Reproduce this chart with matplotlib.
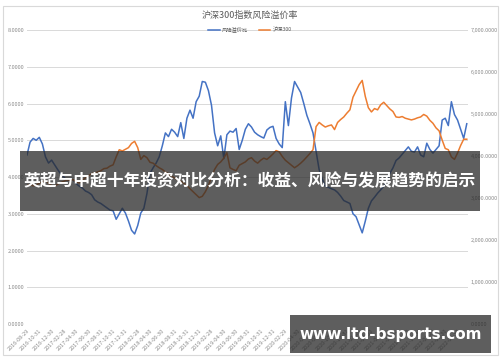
import numpy as np
import matplotlib
matplotlib.use('Agg')
import matplotlib.pyplot as plt
from matplotlib.patches import Rectangle
from matplotlib.ticker import FuncFormatter

plt.rcParams['font.family'] = ['Noto Sans CJK SC', 'DejaVu Sans']

# semi-monthly samples, 2016-08-29 .. 2022-07
premium = [4.6, 4.95, 5.05, 5.0, 5.08, 4.9, 4.55, 4.38, 4.46, 4.33,
           4.2, 4.08, 4.0, 3.9, 3.95, 3.92, 3.82, 3.75, 3.7, 3.62,
           3.58, 3.52, 3.38, 3.32, 3.28, 3.22, 3.16, 3.1, 3.08, 2.85,
           3.0, 3.15, 3.02, 2.8, 2.55, 2.45, 2.68, 3.02, 3.15, 3.55,
           4.1, 4.25, 4.38, 4.55, 4.85, 5.2, 5.1, 5.3, 5.22, 5.1,
           5.48, 5.05, 5.6, 5.82, 5.6, 6.05, 6.2, 6.6, 6.58, 6.35,
           5.95, 5.2, 4.85, 5.12, 4.5, 5.15, 5.25, 5.22, 5.32, 4.75,
           5.0, 5.3, 5.45, 5.36, 5.22, 5.15, 5.1, 5.06, 5.28, 5.35,
           5.38, 5.05, 4.9, 4.8, 6.05, 5.4, 6.15, 6.6, 6.45, 6.3,
           6.0, 5.68, 5.45, 5.2, 4.7, 4.2, 3.95, 3.75, 3.72, 3.68,
           3.65, 3.58, 3.48, 3.36, 3.32, 3.28, 3.0, 2.92, 2.7, 2.48,
           2.8, 3.15, 3.35, 3.45, 3.56, 3.65, 3.75, 3.92, 4.1, 4.25,
           4.45, 4.52, 4.62, 4.72, 4.82, 4.7, 4.68, 4.82, 4.6, 4.55,
           4.92, 4.75, 4.65, 4.75, 4.85, 5.55, 5.6, 5.4, 6.05, 5.7,
           5.55, 5.3, 5.05, 5.45]

hs300 = [3300, 3320, 3290, 3310, 3350, 3380, 3420, 3350, 3300, 3280,
         3330, 3370, 3400, 3430, 3420, 3440, 3380, 3360, 3420, 3480,
         3530, 3580, 3600, 3620, 3650, 3700, 3710, 3760, 3790, 3980,
         4150, 4120, 4160, 4200, 4300, 4350, 4200, 3920, 4010, 3960,
         3850, 3830, 3770, 3720, 3680, 3620, 3580, 3520, 3480, 3430,
         3400, 3350, 3300, 3220, 3150, 3080, 3010, 3040, 3150, 3300,
         3500, 3680, 3800, 3860, 3950, 4080, 3720, 3680, 3650, 3780,
         3820, 3860, 3930, 3960, 3880, 3830, 3900, 3950, 3920, 3980,
         4050, 4130, 4100, 3990, 3900, 3840, 3780, 3720, 3770, 3830,
         3900, 3980, 4060, 4150, 4700, 4800, 4740, 4690, 4720, 4740,
         4630, 4800, 4870, 4930, 5020, 5100, 5400, 5550, 5700, 5800,
         5420, 5150, 5050, 5130, 5100, 5220, 5280, 5200, 5120, 5060,
         4930, 4920, 4940, 4900, 4880, 4860, 4880, 4910, 4930, 4990,
         4950, 4850, 4780, 4670, 4600, 4380, 4180, 4150, 3980, 3920,
         4070, 4250, 4400, 4400]

date_labels = ['2016-08-29', '2016-10-31', '2016-12-30', '2017-02-28', '2017-04-30',
               '2017-06-30', '2017-08-31', '2017-10-31', '2017-12-31', '2018-02-28',
               '2018-04-30', '2018-06-30', '2018-08-31', '2018-10-31', '2018-12-31',
               '2019-02-28', '2019-04-30', '2019-06-30', '2019-08-31', '2019-10-31',
               '2019-12-31', '2020-02-29', '2020-04-30', '2020-06-30', '2020-08-31',
               '2020-10-31', '2020-12-31', '2021-02-28', '2021-04-30', '2021-06-30',
               '2021-08-31', '2021-10-31', '2021-12-31', '2022-02-28', '2022-04-30',
               '2022-06-30']

x = np.arange(len(premium))
grey = '#8c8c8c'

fig = plt.figure(figsize=(5, 3.62), dpi=100)
ax = fig.add_axes([0.054, 0.105, 0.882, 0.812])
ax2 = ax.twinx()

ax.plot(x, premium, color='#4472C4', lw=1.1, label='风险溢价比')
ax2.plot(x, hs300, color='#ED7D31', lw=1.1, label='沪深300')

ax.set_xlim(0, 143.4)
ax.set_ylim(0, 8)
ax2.set_ylim(0, 7000)
ax.set_yticks(np.arange(0, 9, 1))
ax2.set_yticks(np.arange(0, 7001, 1000))
ax.yaxis.set_major_formatter(FuncFormatter(lambda v, p: '%.4f' % v))
ax2.yaxis.set_major_formatter(FuncFormatter(lambda v, p: '{:,.4f}'.format(v)))
ax.set_xticks(np.arange(0, len(date_labels) * 4, 4))
ax.set_xticklabels(date_labels, rotation=45, ha='right', rotation_mode='anchor')

ax.grid(axis='y', color='#d9d9d9', lw=0.7)
ax.set_axisbelow(True)
for a in (ax, ax2):
    for s in a.spines.values():
        s.set_visible(False)
    a.tick_params(length=0, labelsize=4, labelcolor=grey, pad=2)
ax.tick_params(axis='x', pad=3)

fig.text(0.5, 0.958, '沪深300指数风险溢价率', ha='center', va='center',
         fontsize=6.5, color='#595959')
h1, l1 = ax.get_legend_handles_labels()
h2, l2 = ax2.get_legend_handles_labels()
fig.legend(h1 + h2, l1 + l2, loc='center', bbox_to_anchor=(0.5, 0.917), ncol=2,
           frameon=False, fontsize=3.8, handlelength=2.2, columnspacing=2.0,
           handletextpad=0.4, labelcolor='#595959')

# chart border
fig.patches.append(Rectangle((0.006, 0.019), 0.99, 0.964, transform=fig.transFigure,
                             fill=False, edgecolor='#d9d9d9', lw=0.8))

# overlays
fig.patches.append(Rectangle((0.04, 0.417), 0.92, 0.166, transform=fig.transFigure,
                             facecolor='#282828', alpha=0.75, zorder=10))
fig.text(0.5, 0.5, '英超与中超十年投资对比分析：收益、风险与发展趋势的启示',
         ha='center', va='center', color='white', fontsize=12.1,
         fontweight='bold', zorder=11)
fig.patches.append(Rectangle((0.58, 0.025), 0.402, 0.105, transform=fig.transFigure,
                             facecolor='#282828', alpha=0.75, zorder=10))
fig.text(0.781, 0.077, 'www.ltd-bsports.com', ha='center', va='center',
         color='white', fontsize=11, fontweight='bold',
         family=['DejaVu Sans'], zorder=11)

fig.savefig('out.png', dpi=100)
